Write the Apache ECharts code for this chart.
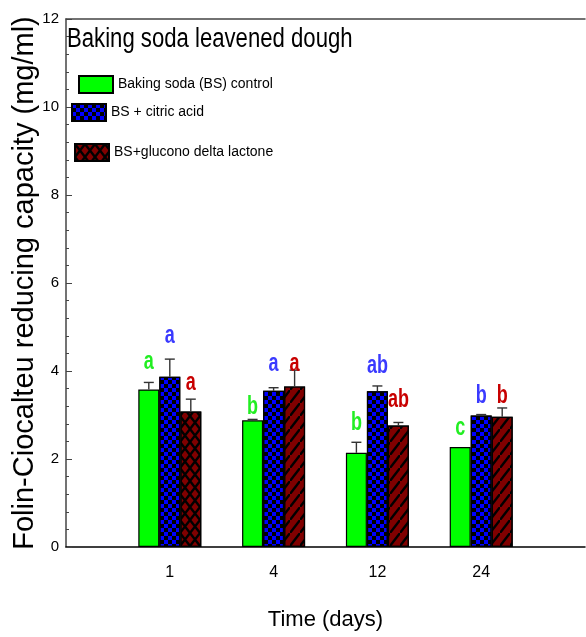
<!DOCTYPE html>
<html>
<head>
<meta charset="utf-8">
<script src="https://cdn.jsdelivr.net/npm/echarts@6/dist/echarts.min.js"></script>
<style>html,body{margin:0;padding:0;background:#fff}#c{width:586px;height:637px}</style>
</head>
<body>
<div id="c"></div>
<script>
// ---- data ----
var days = ['1', '4', '12', '24'];
var seriesNames = ['Baking soda (BS) control', 'BS + citric acid', 'BS+glucono delta lactone'];
var controlMean = [3.58, 2.88, 2.14, 2.27];
var controlSD   = [0.16, 0.02, 0.24, 0];
var citricMean  = [3.87, 3.55, 3.54, 2.99];
var citricSD    = [0.40, 0.07, 0.12, 0.02];
var gdlMean     = [3.08, 3.65, 2.76, 2.96];
var gdlSD       = [0.28, 0.37, 0.07, 0.20];
var controlLetters = ['a', 'b', 'b', 'c'];
var citricLetters  = ['a', 'a', 'ab', 'b'];
var gdlLetters     = ['a', 'a', 'ab', 'b'];
var controlLetterY = [4.20, 3.17, 2.81, 2.70];
var citricLetterY  = [4.80, 4.15, 4.10, 3.43];
var gdlLetterY     = [3.73, 4.15, 3.34, 3.43];
var yTicks = [0, 2, 4, 6, 8, 10, 12];

// ---- build ----
var SANS = "'Liberation Sans', Arial, sans-serif";
var cats = [''].concat(days, ['']);
function pad(a) { return ['-'].concat(a, ['-']); }

var means = [controlMean, citricMean, gdlMean];
var sds = [controlSD, citricSD, gdlSD];
var letters = [controlLetters, citricLetters, gdlLetters];
var letterY = [controlLetterY, citricLetterY, gdlLetterY];
var barColors = ['#00ff00', '#0000ff', '#800000'];
var letterColors = ['#22ee22', '#3a3aff', '#c80000'];
var BAR_W = 21;

var checker = {symbol: 'rect', symbolSize: 1, color: '#000',
  dashArrayX: [[4, 4], [0, 4, 4, 0]], dashArrayY: [4, 0]};
var cross = {symbol: 'path://M0,0L1.5,0L10,8.5L10,10L8.5,10L0,1.5ZM10,0L10,1.5L1.5,10L0,10L0,8.5L8.5,0Z',
  symbolSize: 1, symbolKeepAspect: false, color: '#000', dashArrayX: [10, 0], dashArrayY: [13, 0]};
var diag = {symbol: 'path://M0,10L0,8.5L8.5,0L10,0L10,1.5L1.5,10Z',
  symbolSize: 1, symbolKeepAspect: false, color: '#000', dashArrayX: [10, 0], dashArrayY: [13, 0]};

var series = [];
for (var s = 0; s < 3; s++) {
  var d = pad(means[s]);
  if (s === 2) {
    d = d.map(function (v, i) {
      if (v === '-' || i === 1) return v;
      return {value: v, itemStyle: {decal: diag}};
    });
  }
  var ist = {color: barColors[s], borderColor: '#000', borderWidth: 1.2};
  if (s === 1) ist.decal = checker;
  if (s === 2) ist.decal = cross;
  series.push({
    type: 'bar', name: seriesNames[s], data: d, barWidth: BAR_W, barGap: '0%',
    itemStyle: ist, z: 2
  });
}

var errData = [], letData = [];
for (var s2 = 0; s2 < 3; s2++) {
  for (var i = 0; i < days.length; i++) {
    errData.push([i + 1, means[s2][i], sds[s2][i], s2]);
    letData.push({value: [i + 1, letterY[s2][i], s2], txt: letters[s2][i]});
  }
}

series.push({
  type: 'custom', name: 'err', z: 5, silent: true,
  dimensions: ['x', 'y', 'sd', 's'], encode: {x: 0, y: 1},
  data: errData,
  renderItem: function (params, api) {
    var sd = api.value(2);
    if (!sd) return null;
    var si = api.value(3);
    var b = api.coord([api.value(0), api.value(1)]);
    var t = api.coord([api.value(0), api.value(1) + sd]);
    var x = b[0] + (si - 1) * BAR_W;
    var st = {stroke: '#333', lineWidth: 1.4};
    return {type: 'group', children: [
      {type: 'line', shape: {x1: x, y1: b[1], x2: x, y2: t[1]}, style: st},
      {type: 'line', shape: {x1: x - 5, y1: t[1], x2: x + 5, y2: t[1]}, style: st}
    ]};
  }
});

series.push({
  type: 'custom', name: 'letters', z: 6, silent: true,
  dimensions: ['x', 'y', 's'], encode: {x: 0, y: 1},
  data: letData,
  renderItem: function (params, api) {
    var si = api.value(2);
    var p = api.coord([api.value(0), api.value(1)]);
    var x = p[0] + (si - 1) * BAR_W;
    return {type: 'text', x: x, y: p[1], scaleX: 0.72,
      style: {x: 0, y: 0, text: letData[params.dataIndex].txt,
      fill: letterColors[si], font: 'bold 25px ' + SANS, align: 'center', verticalAlign: 'middle'}};
  }
});

function legendAt(name, left, top) {
  return {data: [name], left: left, top: top, padding: 0, itemWidth: 34, itemHeight: 17,
    icon: 'rect', textStyle: {fontFamily: SANS, fontSize: 14, color: '#000'}, selectedMode: false};
}

var option = {
  animation: false,
  backgroundColor: '#fff',
  graphic: [{
    type: 'text', x: 67, y: 26, scaleX: 0.82, z: 10,
    style: {x: 0, y: 0, text: 'Baking soda leavened dough', font: '27px ' + SANS, fill: '#000'}
  }],
  legend: [
    legendAt(seriesNames[0], 78, 75),
    legendAt(seriesNames[1], 71, 103),
    legendAt(seriesNames[2], 74, 143)
  ],
  grid: {left: 66, right: 1, top: 19, bottom: 90, outerBoundsMode: 'none', containLabel: false},
  xAxis: [{
    type: 'category', data: cats, boundaryGap: false, position: 'bottom',
    name: 'Time (days)', nameLocation: 'middle', nameGap: 62, nameMoveOverlap: false,
    nameTextStyle: {fontFamily: SANS, fontSize: 22, color: '#000'},
    axisLine: {lineStyle: {color: '#000', width: 1.5}},
    axisTick: {show: false},
    axisLabel: {fontFamily: SANS, fontSize: 16, color: '#000', margin: 18, interval: 0},
    splitLine: {show: false}
  }, {
    type: 'category', data: cats, boundaryGap: false, position: 'top',
    axisLine: {show: true, lineStyle: {color: '#444', width: 1.5}},
    axisTick: {show: false}, axisLabel: {show: false}, splitLine: {show: false}
  }],
  yAxis: {
    type: 'value', min: yTicks[0], max: yTicks[yTicks.length - 1], interval: 2,
    name: 'Folin-Ciocalteu reducing capacity (mg/ml)', nameLocation: 'middle', nameGap: 27,
    nameMoveOverlap: false,
    nameTextStyle: {fontFamily: SANS, fontSize: 29, color: '#000'},
    axisLine: {show: true, lineStyle: {color: '#444', width: 1.5}},
    axisTick: {show: true, inside: true, length: 6, lineStyle: {color: '#444'}},
    minorTick: {show: true, splitNumber: 5, length: 3, lineStyle: {color: '#444'}},
    axisLabel: {fontFamily: SANS, fontSize: 15, color: '#000', margin: 7},
    splitLine: {show: false}
  },
  series: series
};
var chart = echarts.init(document.getElementById('c'), null, {renderer: 'canvas'});
chart.setOption(option);
</script>
</body>
</html>
